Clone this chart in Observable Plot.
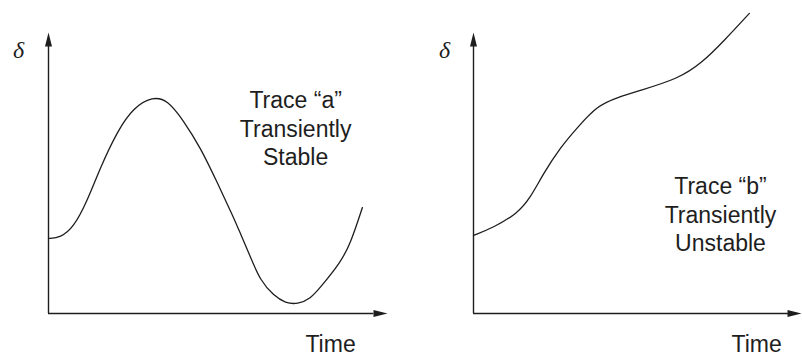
<!DOCTYPE html>
<html><head><meta charset="utf-8">
<script src="https://cdn.jsdelivr.net/npm/d3@7"></script>
<script src="https://cdn.jsdelivr.net/npm/@observablehq/plot@0.6"></script>
<style>
body{margin:0;background:#fff}
#chart{display:flex;width:802px;height:356px;background:#fff}
#chart svg{display:block;overflow:visible}
</style>
</head><body><div id="chart"></div>
<script>
// Trace "a" (transiently stable)
const timeA  = [0, 0.35, 0.74, 1.15, 1.53, 2.04, 2.51, 3.07, 3.51, 3.98, 4.48, 4.99, 5.46, 5.66, 5.96, 6.25, 6.64, 6.99, 7.35, 7.73, 8.02, 8.61, 8.91, 9.26];
const deltaA = [2.67, 2.70, 3.06, 4.02, 5.20, 6.51, 7.33, 7.72, 7.60, 6.87, 5.91, 4.63, 3.42, 2.85, 2.00, 1.17, 0.64, 0.37, 0.33, 0.53, 0.93, 1.81, 2.49, 3.77];
// Trace "b" (transiently unstable)
const timeB  = [0, 0.61, 1.34, 1.74, 2.13, 2.65, 3.17, 3.78, 4.39, 5.09, 6.25, 6.95, 7.65, 8.41];
const deltaB = [2.78, 3.06, 3.56, 4.13, 4.98, 5.91, 6.62, 7.40, 7.69, 7.94, 8.36, 8.90, 9.72, 10.68];

const labelA = "Trace \u201ca\u201d\nTransiently\nStable";
const labelB = "Trace \u201cb\u201d\nTransiently\nUnstable";
const yLabel = "\u03b4";
const xLabel = "Time";

const ink = "#1e1e1e";
const arrowHead = {
  draw(ctx) {
    const L = 14, W = 7;
    ctx.moveTo(0, 0);
    ctx.lineTo(-W / 2, L);
    ctx.lineTo(W / 2, L);
    ctx.closePath();
  }
};

function panel({time, delta, label, labelPos, deltaPos, timePos, marginLeft, marginRight}) {
  const pts = time.map((t, i) => ({t, d: delta[i]}));
  return Plot.plot({
    width: 401, height: 356,
    marginLeft, marginRight, marginTop: 32, marginBottom: 43,
    x: {domain: [0, 10], axis: null},
    y: {domain: [0, 10], axis: null},
    style: {background: "transparent"},
    marks: [
      Plot.ruleX([0], {y1: 0, y2: 9.6, stroke: ink, strokeWidth: 1.4}),
      Plot.ruleY([0], {x1: 0, x2: 9.6, stroke: ink, strokeWidth: 1.4}),
      Plot.dot([{t: 0, d: 10}], {x: "t", y: "d", symbol: arrowHead, fill: ink, stroke: "none"}),
      Plot.dot([{t: 10, d: 0}], {x: "t", y: "d", symbol: arrowHead, fill: ink, stroke: "none", rotate: 90}),
      Plot.line(pts, {x: "t", y: "d", curve: "basis", stroke: ink, strokeWidth: 1.3}),
      Plot.text([label], {x: labelPos[0], y: labelPos[1], text: d => d, fontFamily: "Liberation Sans, Arial, sans-serif", fontSize: 23, lineHeight: 1.25, fill: ink, textAnchor: "middle"}),
      Plot.text([yLabel], {x: deltaPos[0], y: deltaPos[1], text: d => d, fontFamily: "Liberation Serif, Times New Roman, serif", fontStyle: "italic", fontSize: 24, fill: ink}),
      Plot.text([xLabel], {x: timePos[0], y: timePos[1], text: d => d, fontFamily: "Liberation Sans, Arial, sans-serif", fontSize: 23, fill: ink})
    ]
  });
}

const chart = document.getElementById("chart");
chart.append(panel({time: timeA, delta: deltaA, label: labelA, labelPos: [7.29, 6.62], deltaPos: [-0.88, 9.35], timePos: [8.32, -1.1], marginLeft: 48, marginRight: 14}));
chart.append(panel({time: timeB, delta: deltaB, label: labelB, labelPos: [7.53, 3.56], deltaPos: [-0.88, 9.35], timePos: [8.63, -1.1], marginLeft: 72, marginRight: 1}));
</script>
</body></html>
